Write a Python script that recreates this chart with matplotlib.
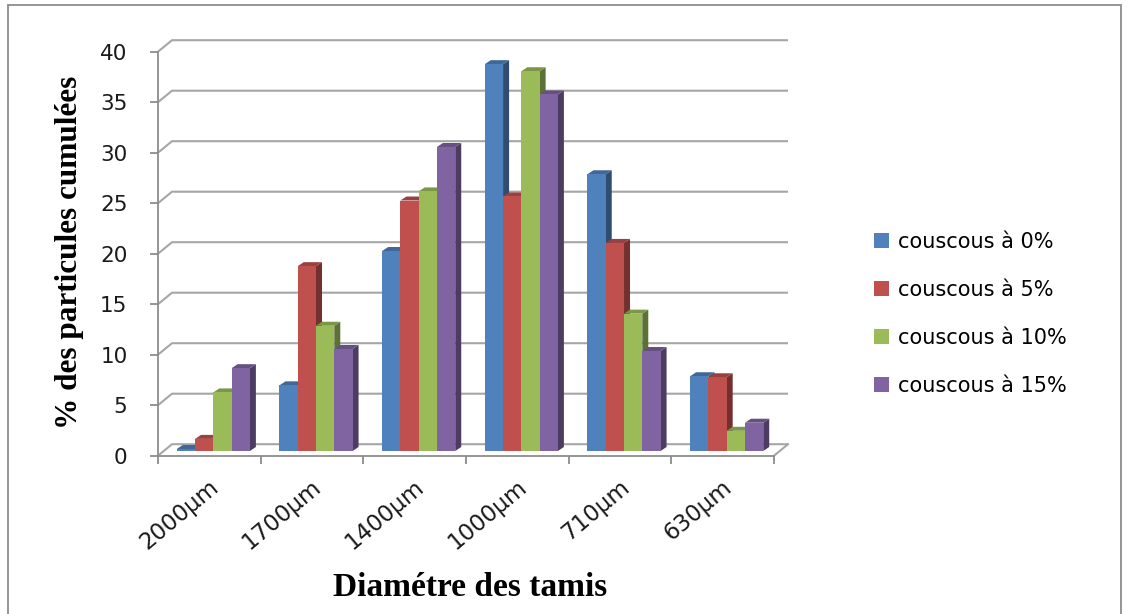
import matplotlib.pyplot as plt
from matplotlib.patches import Polygon, Rectangle
import numpy as np

# Sieve sizes and cumulative particle shares per couscous formulation
tamis = ["2000µm", "1700µm", "1400µm", "1000µm", "710µm", "630µm"]
series = ["couscous à 0%", "couscous à 5%", "couscous à 10%", "couscous à 15%"]
c0 = [0.2, 6.5, 19.8, 38.3, 27.4, 7.4]
c5 = [1.2, 18.3, 24.8, 25.2, 20.6, 7.3]
c10 = [5.8, 12.4, 25.7, 37.6, 13.6, 2.0]
c15 = [8.2, 10.1, 30.1, 35.3, 9.9, 2.8]
values = [c0, c5, c10, c15]

colors = ["#4F81BD", "#C0504D", "#9BBB59", "#8064A2"]
yticks = [0, 5, 10, 15, 20, 25, 30, 35, 40]

W, H = 1128, 614
fig = plt.figure(figsize=(W / 100, H / 100), dpi=100)

# pixel geometry of the front plane: x 0..6 -> 158..774, y 0..40 -> 455.7..51.7
x0_px, xpx = 158.0, 102.67
y0_px, ypx = 455.7, 10.1
xlim = (-0.2, 6.4)
ylim = (-1.0, 42.5)
left = x0_px + xlim[0] * xpx
right = x0_px + xlim[1] * xpx
bottom = y0_px - ylim[0] * ypx
top = y0_px - ylim[1] * ypx
ax = fig.add_axes([left / W, 1 - bottom / H, (right - left) / W, (bottom - top) / H])
ax.set_xlim(*xlim)
ax.set_ylim(*ylim)

# depth offsets (data units)
bx, by = 14 / xpx, 11.5 / ypx      # back wall
mx, my = 4 / xpx, 4.7 / ypx        # bar front faces
ex, ey = 6 / xpx, 4 / ypx          # bar thickness

grid_c = "#A6A6A6"
for v in yticks:
    ax.plot([0, bx, 6 + bx], [v, v + by, v + by], color=grid_c, lw=1.5,
            zorder=1, clip_on=False, solid_capstyle="butt")
ax.plot([6, 6 + bx], [0, by], color=grid_c, lw=1.5, zorder=1, clip_on=False)


def shade(c, f):
    rgb = np.array(plt.matplotlib.colors.to_rgb(c))
    return tuple(rgb * f)


w = 0.178
for i in range(len(tamis)):
    for j, vals in enumerate(values):
        v = vals[i]
        x = i + 0.5 + mx - 2 * w + j * w
        b = my
        t = b + v
        side = Polygon([(x + w, b), (x + w + ex, b + ey), (x + w + ex, t + ey), (x + w, t)],
                       closed=True, facecolor=shade(colors[j], 0.6), edgecolor="none",
                       zorder=2 + i * 4 + j)
        topf = Polygon([(x, t), (x + ex, t + ey), (x + w + ex, t + ey), (x + w, t)],
                       closed=True, facecolor=shade(colors[j], 0.8), edgecolor="none",
                       zorder=2 + i * 4 + j)
        ax.add_patch(side)
        ax.add_patch(topf)
        ax.bar(x, v, width=w, bottom=b, align="edge", color=colors[j],
               edgecolor="none", zorder=2 + i * 4 + j + 0.5,
               label=series[j] if i == 0 else None)

# axes lines
for s in ["top", "right"]:
    ax.spines[s].set_visible(False)
ax.spines["left"].set_bounds(0, 40)
ax.spines["left"].set_position(("data", 0))
ax.spines["bottom"].set_position(("data", 0))
ax.spines["bottom"].set_bounds(0, 6)
for s in ["left", "bottom"]:
    ax.spines[s].set_color("#8C8C8C")
    ax.spines[s].set_linewidth(1.3)

ax.set_yticks(yticks)
ax.set_yticklabels([str(v) for v in yticks], fontsize=15.5, color="#1A1A1A")
ax.tick_params(axis="y", length=6, width=1.3, color="#8C8C8C", pad=16)

ax.set_xticks(np.arange(len(tamis) + 1), minor=True)
ax.set_xticks(np.arange(len(tamis)) + 0.49)
ax.set_xticklabels(tamis, fontsize=16.5, rotation=40, ha="right", va="top",
                   rotation_mode="anchor", color="#1A1A1A")
ax.tick_params(axis="x", which="major", length=0, pad=14)
ax.tick_params(axis="x", which="minor", length=6, width=1.3, color="#8C8C8C")

fig.text(70 / W, 1 - 252 / H, "% des particules cumulées", family="Liberation Serif",
         fontweight="bold", fontsize=22.5, rotation=90, ha="center", va="center")
fig.text(470 / W, 1 - 588 / H, "Diamétre des tamis", family="Liberation Serif",
         fontweight="bold", fontsize=24, ha="center", va="center")

leg = ax.legend(loc="upper left", bbox_to_anchor=(855 / W, 1 - 213 / H),
                bbox_transform=fig.transFigure, frameon=False, fontsize=15,
                handlelength=0.75, handleheight=0.75, handletextpad=0.4,
                labelspacing=1.35)

# outer chart border
fig.patches.append(Rectangle((8 / W, -0.02), (1121 - 8) / W, 1.02 - 5 / H,
                             transform=fig.transFigure, fill=False,
                             edgecolor="#8C8C8C", lw=1.3))

fig.savefig("out.png", dpi=100)
